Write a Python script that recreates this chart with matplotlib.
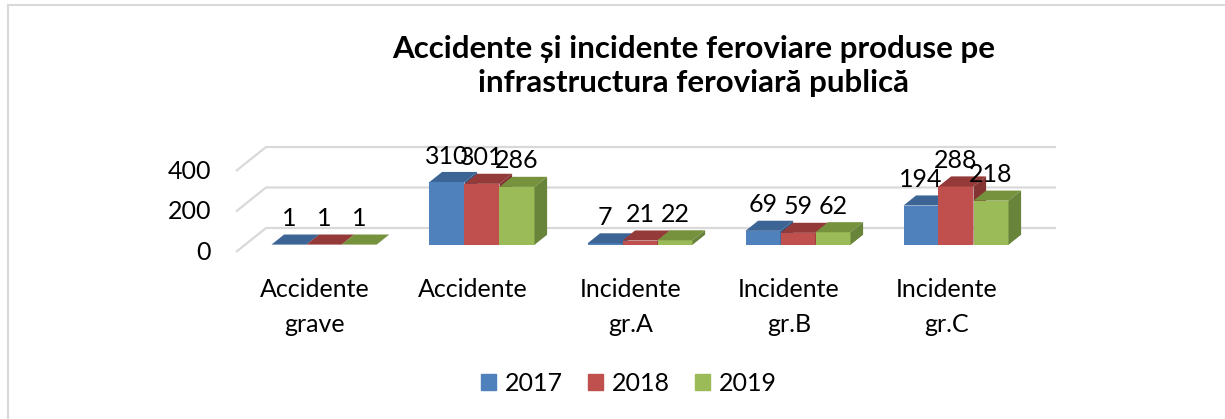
import matplotlib
matplotlib.use("Agg")
import matplotlib.pyplot as plt
from matplotlib.patches import Polygon, Rectangle, Patch
from matplotlib.transforms import offset_copy

# data
categories = ["Accidente\ngrave", "Accidente", "Incidente\ngr.A", "Incidente\ngr.B", "Incidente\ngr.C"]
years = ["2017", "2018", "2019"]
values_2017 = [1, 310, 7, 69, 194]
values_2018 = [1, 301, 21, 59, 288]
values_2019 = [1, 286, 22, 62, 218]
y_ticks = [0, 200, 400]
title = "Accidente și incidente feroviare produse pe\ninfrastructura feroviară publică"

front_colors = ["#4f81bd", "#c0504d", "#9bbb59"]
top_colors = ["#3c6596", "#943b39", "#77923d"]
side_colors = ["#345985", "#843432", "#68833a"]
grid_color = "#d9d9d9"

plt.rcParams["font.family"] = ["Lato", "DejaVu Sans"]

W, H = 1225, 419
fig = plt.figure(figsize=(W / 100, H / 100), dpi=100)

# axes box in pixels (left, top, right, bottom), data is scaled inside it
px_l, px_t, px_r, px_b = 200, 100, 1100, 300
ax = fig.add_axes([px_l / W, (H - px_b) / H, (px_r - px_l) / W, (px_b - px_t) / H])
cat_px = 158.0      # pixels per category
val_px = 0.2025     # pixels per unit of value
x_front0, y_front0 = 315, 252
ax.set_xlim((px_l - x_front0) / cat_px, (px_r - x_front0) / cat_px)
ax.set_ylim((y_front0 - px_b) / val_px, (y_front0 - px_t) / val_px)
ax.axis("off")

# fake 3d depth (oblique projection)
DX = 30 / cat_px
DY = 24 / val_px
t0, t1 = 0.30, 0.72
w = 35 / cat_px
n = len(categories)

# walls: left diagonals and back gridlines
for v in y_ticks:
    ax.plot([-0.5, -0.5 + DX, n - 0.5 + DX], [v, v + DY, v + DY],
            color=grid_color, lw=1.6, zorder=0, solid_capstyle="butt")

series = [values_2017, values_2018, values_2019]
ddx = (t1 - t0) * DX
for i in range(n):
    for s, vals in enumerate(series):
        v = vals[i]
        x0 = i - 1.5 * w + s * w + t0 * DX
        y0 = t0 * DY
        ax.bar(x0 + w / 2, v, width=w, bottom=y0, color=front_colors[s],
               edgecolor="none", zorder=1)
        top = [(x0, v + y0), (x0 + w, v + y0),
               (x0 + w + ddx, v + t1 * DY), (x0 + ddx, v + t1 * DY)]
        ax.add_patch(Polygon(top, closed=True, fc=top_colors[s], ec="none", zorder=1))
        side = [(x0 + w, y0), (x0 + w, v + y0),
                (x0 + w + ddx, v + t1 * DY), (x0 + w + ddx, t1 * DY)]
        ax.add_patch(Polygon(side, closed=True, fc=side_colors[s], ec="none", zorder=1))

# value labels
for i in range(n):
    for s, vals in enumerate(series):
        v = vals[i]
        x0 = i - 1.5 * w + s * w + t0 * DX
        ax.annotate(str(v), xy=(x0 + w / 2, v + t0 * DY), xytext=(0, 26),
                    textcoords="offset pixels", ha="center", va="center",
                    fontsize=18, zorder=3)

# y tick labels at the front floor edge
tick_tr = offset_copy(ax.transData, fig=fig, x=-25, y=0, units="dots")
for v in y_ticks:
    ax.text(-0.5, v, str(v), ha="right", va="center", fontsize=18, transform=tick_tr)

# category labels
cat_tr = offset_copy(ax.transData, fig=fig, x=0, y=-26, units="dots")
for i, lab in enumerate(categories):
    ax.text(i, 0, lab, ha="center", va="top", fontsize=18,
            linespacing=1.62, transform=cat_tr)

fig.text(694 / W, 1 - 66 / H, title, ha="center", va="center",
         fontsize=22.5, fontweight="bold", linespacing=1.3)

handles = [Patch(color=c, label=y) for c, y in zip(front_colors, years)]
fig.legend(handles=handles, loc="center", bbox_to_anchor=(629 / W, 1 - 383 / H),
           ncol=3, frameon=False, fontsize=18, handlelength=0.6, handleheight=0.6,
           handletextpad=0.35, columnspacing=1.0)

# chart border (only left and top edges fall inside the picture)
fig.add_artist(Rectangle((8 / W, -0.1), 1.2, (H - 5) / H + 0.1,
                         transform=fig.transFigure, fill=False,
                         ec=grid_color, lw=1.5))

fig.savefig("out.png", dpi=100)
